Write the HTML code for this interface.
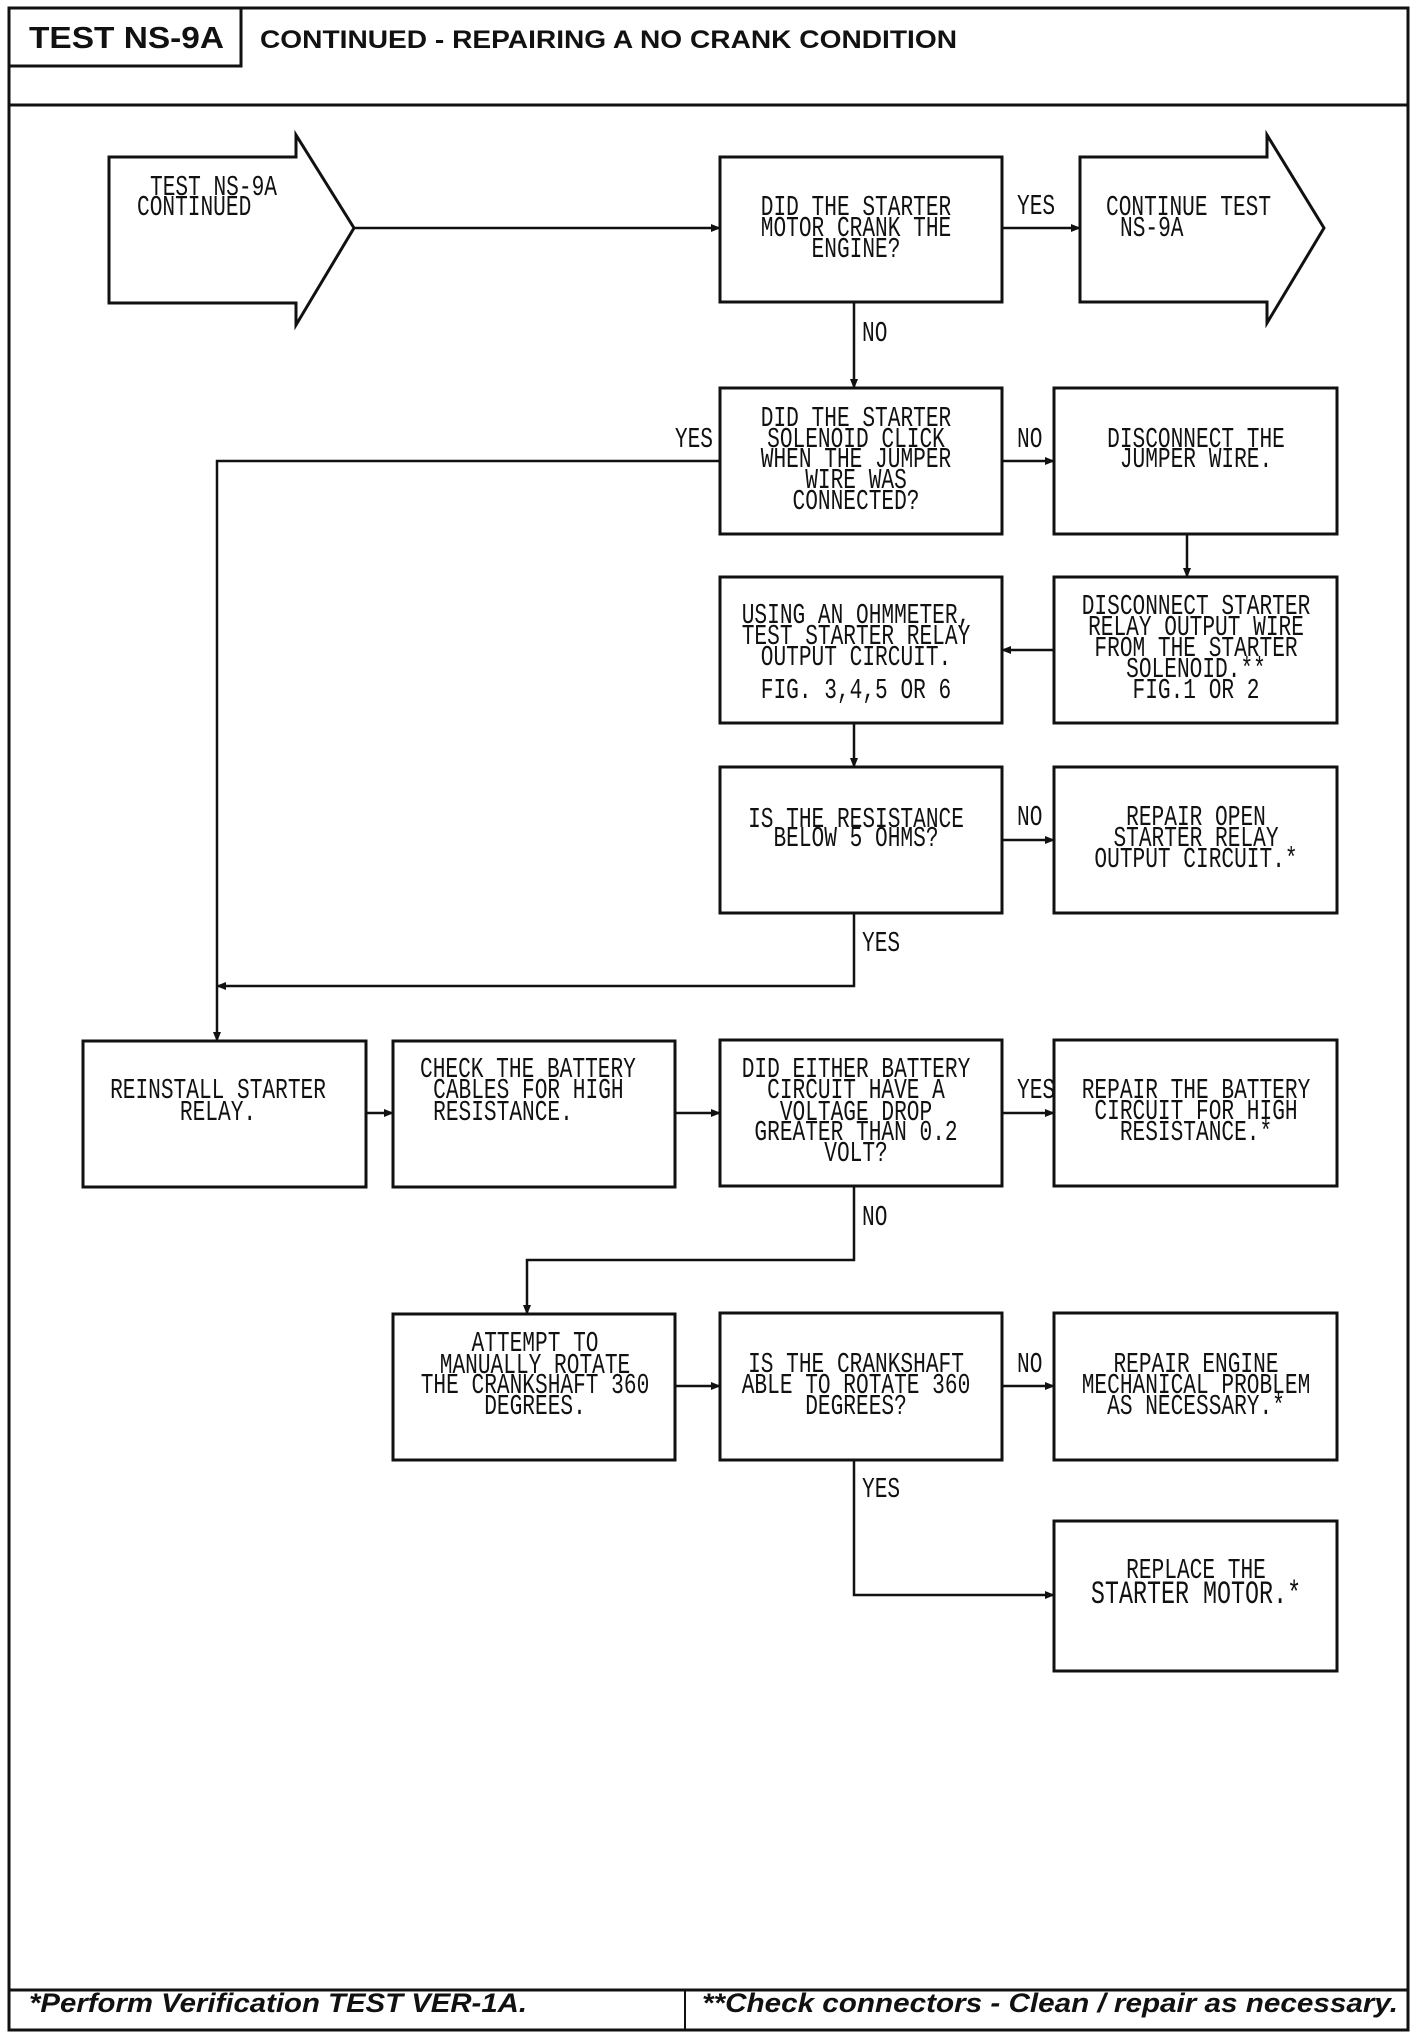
<!DOCTYPE html>
<html><head><meta charset="utf-8"><style>
html,body{margin:0;padding:0;background:#fff;}
svg{display:block;}
.t{font-family:"Liberation Mono",monospace;font-size:29px;fill:#111;}
.m{text-anchor:middle;}
</style></head><body>
<svg width="1424" height="2032" viewBox="0 0 1424 2032" xmlns="http://www.w3.org/2000/svg">
<defs>
<marker id="a" markerWidth="10" markerHeight="10" refX="9" refY="5" orient="auto" markerUnits="userSpaceOnUse">
<path d="M0,1 L10,5 L0,9 Z" fill="#111"/></marker>
</defs>
<g fill="none" stroke="#111" stroke-width="3">
<!-- outer frame -->
<rect x="9" y="8" width="1399" height="2022"/>
<line x1="9" y1="105" x2="1408" y2="105"/>
<rect x="9" y="8" width="232" height="58"/>
<line x1="9" y1="1990" x2="1408" y2="1990"/>
<line x1="685" y1="1990" x2="685" y2="2030" stroke-width="2"/>

<!-- start arrow -->
<path d="M109,157 L296,157 L296,135 L354,228 L296,325 L296,303 L109,303 Z"/>
<!-- continue arrow -->
<path d="M1080,157 L1267,157 L1267,135 L1324,228 L1267,323 L1267,302 L1080,302 Z"/>

<!-- boxes -->
<rect x="720" y="157" width="282" height="145"/>
<rect x="720" y="388" width="282" height="146"/>
<rect x="1054" y="388" width="283" height="146"/>
<rect x="720" y="577" width="282" height="146"/>
<rect x="1054" y="577" width="283" height="146"/>
<rect x="720" y="767" width="282" height="146"/>
<rect x="1054" y="767" width="283" height="146"/>
<rect x="83" y="1041" width="283" height="146"/>
<rect x="393" y="1041" width="282" height="146"/>
<rect x="720" y="1040" width="282" height="146"/>
<rect x="1054" y="1040" width="283" height="146"/>
<rect x="393" y="1314" width="282" height="146"/>
<rect x="720" y="1313" width="282" height="147"/>
<rect x="1054" y="1313" width="283" height="147"/>
<rect x="1054" y="1521" width="283" height="150"/>
</g>

<g fill="none" stroke="#111" stroke-width="2.5">
<line x1="354" y1="228" x2="720" y2="228" marker-end="url(#a)"/>
<line x1="1002" y1="228" x2="1080" y2="228" marker-end="url(#a)"/>
<line x1="854" y1="302" x2="854" y2="388" marker-end="url(#a)"/>
<line x1="1002" y1="461" x2="1054" y2="461" marker-end="url(#a)"/>
<polyline points="720,461 217,461 217,1041" marker-end="url(#a)"/>
<line x1="1187" y1="534" x2="1187" y2="577" marker-end="url(#a)"/>
<line x1="1054" y1="650" x2="1002" y2="650" marker-end="url(#a)"/>
<line x1="854" y1="723" x2="854" y2="767" marker-end="url(#a)"/>
<line x1="1002" y1="840" x2="1054" y2="840" marker-end="url(#a)"/>
<polyline points="854,913 854,986 217,986" marker-end="url(#a)"/>
<line x1="366" y1="1113" x2="393" y2="1113" marker-end="url(#a)"/>
<line x1="675" y1="1113" x2="720" y2="1113" marker-end="url(#a)"/>
<line x1="1002" y1="1113" x2="1054" y2="1113" marker-end="url(#a)"/>
<polyline points="854,1186 854,1260 527,1260 527,1314" marker-end="url(#a)"/>
<line x1="675" y1="1386" x2="720" y2="1386" marker-end="url(#a)"/>
<line x1="1002" y1="1386" x2="1054" y2="1386" marker-end="url(#a)"/>
<polyline points="854,1460 854,1595 1054,1595" marker-end="url(#a)"/>
</g>

<!-- header text -->
<text x="29" y="48" font-family="Liberation Sans, sans-serif" font-weight="bold" font-size="31" textLength="195" lengthAdjust="spacingAndGlyphs" fill="#111">TEST NS-9A</text>
<text x="260" y="48" font-family="Liberation Sans, sans-serif" font-weight="bold" font-size="25" textLength="697" lengthAdjust="spacingAndGlyphs" fill="#111">CONTINUED - REPAIRING A NO CRANK CONDITION</text>

<!-- footer text -->
<text x="29" y="2012" font-family="Liberation Sans, sans-serif" font-weight="bold" font-style="italic" font-size="27" textLength="498" lengthAdjust="spacingAndGlyphs" fill="#111">*Perform Verification TEST VER-1A.</text>
<text x="702" y="2012" font-family="Liberation Sans, sans-serif" font-weight="bold" font-style="italic" font-size="27" textLength="696" lengthAdjust="spacingAndGlyphs" fill="#111">**Check connectors - Clean / repair as necessary.</text>

<!-- start arrow text -->
<g transform="translate(150,0) scale(.73,1)"><text class="t" x="0" y="195">TEST NS-9A</text></g>
<g transform="translate(137,0) scale(.73,1)"><text class="t" x="0" y="215">CONTINUED</text></g>
<!-- continue text -->
<g transform="translate(1106,0) scale(.73,1)"><text class="t" x="0" y="215">CONTINUE TEST</text></g>
<g transform="translate(1120,0) scale(.73,1)"><text class="t" x="0" y="236">NS-9A</text></g>

<g transform="translate(856,0) scale(.73,1)" class="t m">
<text x="0" y="215">DID THE STARTER</text>
<text x="0" y="236">MOTOR CRANK THE</text>
<text x="0" y="257">ENGINE?</text>
<text x="0" y="426">DID THE STARTER</text>
<text x="0" y="447">SOLENOID CLICK</text>
<text x="0" y="467">WHEN THE JUMPER</text>
<text x="0" y="488">WIRE WAS</text>
<text x="0" y="509">CONNECTED?</text>
<text x="0" y="623">USING AN OHMMETER,</text>
<text x="0" y="644">TEST STARTER RELAY</text>
<text x="0" y="665">OUTPUT CIRCUIT.</text>
<text x="0" y="698">FIG. 3,4,5 OR 6</text>
<text x="0" y="827">IS THE RESISTANCE</text>
<text x="0" y="846">BELOW 5 OHMS?</text>
<text x="0" y="1077">DID EITHER BATTERY</text>
<text x="0" y="1098">CIRCUIT HAVE A</text>
<text x="0" y="1120">VOLTAGE DROP</text>
<text x="0" y="1140">GREATER THAN 0.2</text>
<text x="0" y="1161">VOLT?</text>
<text x="0" y="1372">IS THE CRANKSHAFT</text>
<text x="0" y="1393">ABLE TO ROTATE 360</text>
<text x="0" y="1414">DEGREES?</text>
</g>

<g transform="translate(1196,0) scale(.73,1)" class="t m">
<text x="0" y="447">DISCONNECT THE</text>
<text x="0" y="467">JUMPER WIRE.</text>
<text x="0" y="614">DISCONNECT STARTER</text>
<text x="0" y="635">RELAY OUTPUT WIRE</text>
<text x="0" y="656">FROM THE STARTER</text>
<text x="0" y="677">SOLENOID.**</text>
<text x="0" y="698">FIG.1 OR 2</text>
<text x="0" y="825">REPAIR OPEN</text>
<text x="0" y="846">STARTER RELAY</text>
<text x="0" y="867">OUTPUT CIRCUIT.*</text>
<text x="0" y="1098">REPAIR THE BATTERY</text>
<text x="0" y="1119">CIRCUIT FOR HIGH</text>
<text x="0" y="1140">RESISTANCE.*</text>
<text x="0" y="1372">REPAIR ENGINE</text>
<text x="0" y="1393">MECHANICAL PROBLEM</text>
<text x="0" y="1414">AS NECESSARY.*</text>
<text x="0" y="1578">REPLACE THE</text>
<text x="0" y="1603" style="font-size:32px">STARTER MOTOR.*</text>
</g>

<g transform="translate(218,0) scale(.73,1)" class="t m">
<text x="0" y="1098">REINSTALL STARTER</text>
<text x="0" y="1120">RELAY.</text>
</g>
<g transform="translate(420,0) scale(.73,1)" class="t">
<text x="0" y="1077">CHECK THE BATTERY</text>
<text x="18" y="1098">CABLES FOR HIGH</text>
<text x="18" y="1120">RESISTANCE.</text>
</g>
<g transform="translate(535,0) scale(.73,1)" class="t m">
<text x="0" y="1351">ATTEMPT TO</text>
<text x="0" y="1373">MANUALLY ROTATE</text>
<text x="0" y="1393">THE CRANKSHAFT 360</text>
<text x="0" y="1414">DEGREES.</text>
</g>

<!-- labels -->
<g class="t">
<g transform="translate(1017,0) scale(.73,1)"><text x="0" y="214">YES</text><text x="0" y="447">NO</text><text x="0" y="825">NO</text><text x="0" y="1098">YES</text><text x="0" y="1372">NO</text></g>
<g transform="translate(862,0) scale(.73,1)"><text x="0" y="341">NO</text><text x="0" y="951">YES</text><text x="0" y="1225">NO</text><text x="0" y="1497">YES</text></g>
<g transform="translate(713,0) scale(.73,1)"><text x="0" y="447" text-anchor="end">YES</text></g>
</g>
</svg>
</body></html>
